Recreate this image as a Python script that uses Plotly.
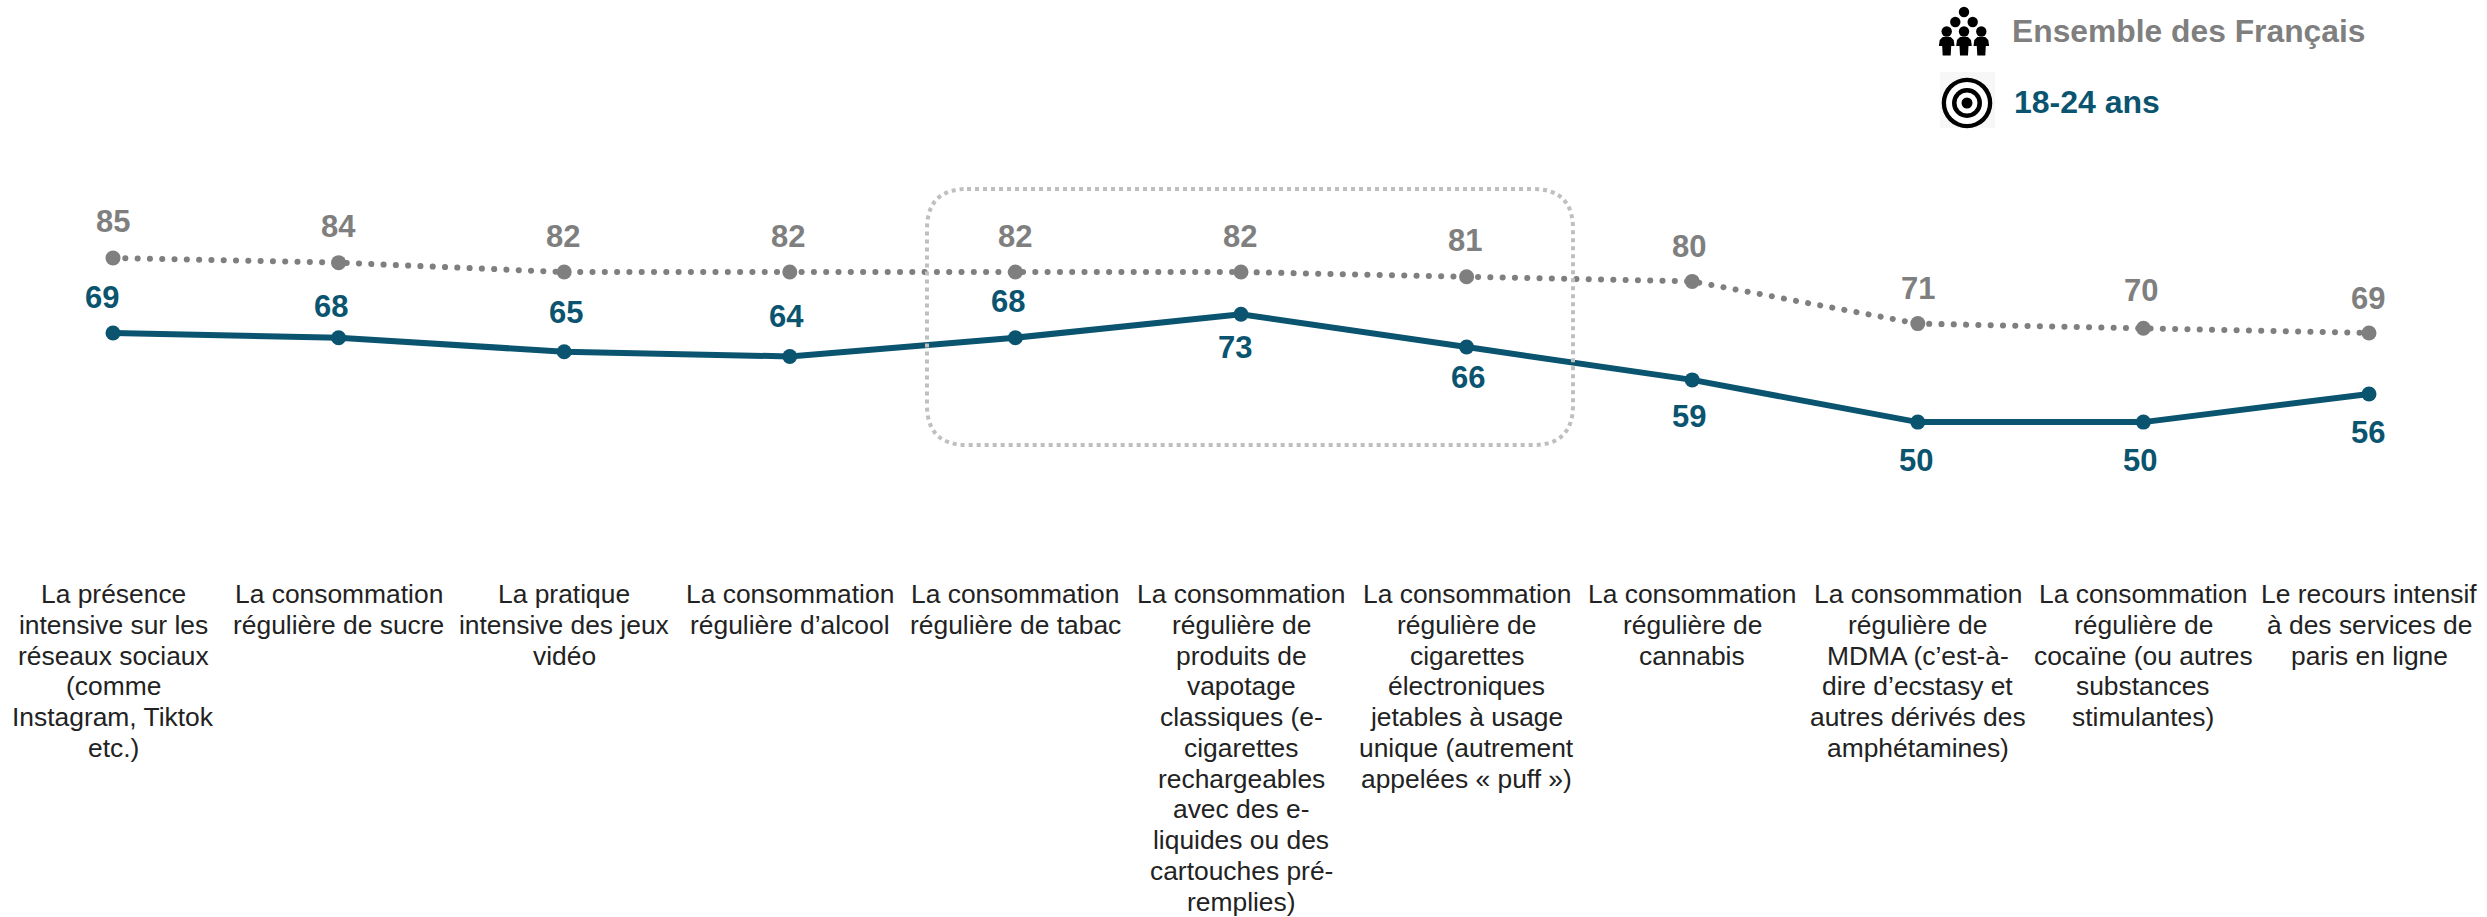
import plotly.graph_objects as go

W, H = 2487, 917

categories = [
    ["La présence", "intensive sur les", "réseaux sociaux", "(comme", "Instagram, Tiktok", "etc.)"],
    ["La consommation", "régulière de sucre"],
    ["La pratique", "intensive des jeux", "vidéo"],
    ["La consommation", "régulière d’alcool"],
    ["La consommation", "régulière de tabac"],
    ["La consommation", "régulière de", "produits de", "vapotage", "classiques (e-", "cigarettes", "rechargeables", "avec des e-", "liquides ou des", "cartouches pré-", "remplies)"],
    ["La consommation", "régulière de", "cigarettes", "électroniques", "jetables à usage", "unique (autrement", "appelées « puff »)"],
    ["La consommation", "régulière de", "cannabis"],
    ["La consommation", "régulière de", "MDMA (c’est-à-", "dire d’ecstasy et", "autres dérivés des", "amphétamines)"],
    ["La consommation", "régulière de", "cocaïne (ou autres", "substances", "stimulantes)"],
    ["Le recours intensif", "à des services de", "paris en ligne"],
]
ensemble = [85, 84, 82, 82, 82, 82, 81, 80, 71, 70, 69]
jeunes = [69, 68, 65, 64, 68, 73, 66, 59, 50, 50, 56]
series_names = ["Ensemble des Français", "18-24 ans"]

GREY = "#7F7F7F"
TEAL = "#0A5470"
FONT = "Liberation Sans"

# label offsets from the points, in pixels (dx, dy; dy positive = downwards)
ens_off = [(0, -36), (0, -36), (-1, -36), (-2, -36), (0, -36), (-1, -36), (-2, -36), (-3, -35), (0, -35), (-2, -38), (-1, -35)]
jeu_off = [(-11, -36), (-8, -31), (2, -39), (-3, -40), (-7, -36), (-6, 33), (1, 30), (-3, 37), (-2, 38), (-3, 38), (-1, 39)]

# pixel calibration of the axes
X0, DX = 113.0, 225.6
Y69, DY = 333.0, 4.69
x_range = [-X0 / DX, (W - X0) / DX]
y_range = [69 - (H - Y69) / DY, 69 + Y69 / DY]
xs = list(range(len(categories)))

fig = go.Figure()
fig.add_trace(go.Scatter(x=xs, y=ensemble, mode="lines", name=series_names[0], showlegend=False, hoverinfo="skip",
                         line=dict(color=GREY, width=6, dash="0.1px,12.2px")))
fig.add_trace(go.Scatter(x=xs, y=ensemble, mode="markers", name=series_names[0], showlegend=False,
                         marker=dict(color=GREY, size=15)))
fig.add_trace(go.Scatter(x=xs, y=jeunes, mode="lines+markers", name=series_names[1], showlegend=False,
                         line=dict(color=TEAL, width=6), marker=dict(color=TEAL, size=15)))


def px(x):
    return x / W


def py(y):
    return 1 - y / H


ann = []
for i in xs:
    ann.append(dict(x=i, y=ensemble[i], text=str(ensemble[i]), xshift=ens_off[i][0], yshift=-ens_off[i][1],
                    showarrow=False, xanchor="center", yanchor="middle",
                    font=dict(family=FONT, size=31, color=GREY, weight="bold")))
    ann.append(dict(x=i, y=jeunes[i], text=str(jeunes[i]), xshift=jeu_off[i][0], yshift=-jeu_off[i][1],
                    showarrow=False, xanchor="center", yanchor="middle",
                    font=dict(family=FONT, size=31, color=TEAL, weight="bold")))
    for k, line in enumerate(categories[i]):
        ann.append(dict(x=i, xref="x", y=py(594 + 30.75 * k), yref="paper", text=line, showarrow=False,
                        xanchor="center", yanchor="middle", xshift=0,
                        font=dict(family=FONT, size=26.4, color="#222222")))

ann.append(dict(x=px(2010), y=py(31), xref="paper", yref="paper", text=series_names[0], showarrow=False,
                xanchor="left", yanchor="middle", font=dict(family=FONT, size=31.8, color=GREY, weight="bold")))
ann.append(dict(x=px(2011.5), y=py(102), xref="paper", yref="paper", text=series_names[1], showarrow=False,
                xanchor="left", yanchor="middle", font=dict(family=FONT, size=32, color=TEAL, weight="bold")))

shapes = []


def P(x, y):
    return f"{px(x):.5f},{py(y):.5f}"


def circle(cx, cy, r, color):
    shapes.append(dict(type="circle", xref="paper", yref="paper", x0=px(cx - r), x1=px(cx + r), y0=py(cy + r),
                       y1=py(cy - r), fillcolor=color, line=dict(width=0), layer="above"))


# rounded dotted box
L, R, T, B, r = 927, 1573, 189, 445, 40
box = (f"M {P(L + r, T)} L {P(R - r, T)} Q {P(R, T)} {P(R, T + r)} L {P(R, B - r)} Q {P(R, B)} {P(R - r, B)} "
       f"L {P(L + r, B)} Q {P(L, B)} {P(L, B - r)} L {P(L, T + r)} Q {P(L, T)} {P(L + r, T)} Z")
shapes.append(dict(type="path", xref="paper", yref="paper", path=box, fillcolor="rgba(0,0,0,0)",
                   line=dict(color="#BFBFBF", width=4, dash="4px,4px"), layer="above"))

# "people" pictogram
for cx, cy in [(1964, 12), (1955.3, 22), (1972.7, 22), (1946.7, 31.5), (1964, 31.5), (1981.3, 31.5)]:
    circle(cx, cy, 5.2, "#000000")
for cx in (1946.7, 1964, 1981.3):
    pts = [(-4, 37), (4, 37), (7, 40), (7.8, 46), (4.5, 46), (4, 55.5), (-4, 55.5), (-4.5, 46), (-7.8, 46), (-7, 40)]
    path = "M " + " L ".join(P(cx + a, b) for a, b in pts) + " Z"
    shapes.append(dict(type="path", xref="paper", yref="paper", path=path, fillcolor="#000000", line=dict(width=0),
                       layer="above"))

# "target" pictogram
shapes.append(dict(type="rect", xref="paper", yref="paper", x0=px(1940), x1=px(1995), y0=py(128), y1=py(72),
                   fillcolor="#F7F7F7", line=dict(width=0), layer="above"))
for rad, col in [(25.3, "#000000"), (21, "#FFFFFF"), (15, "#000000"), (10.5, "#FFFFFF"), (5.5, "#000000")]:
    circle(1967, 103, rad, col)

fig.update_layout(
    width=W, height=H, autosize=False,
    margin=dict(l=0, r=0, t=0, b=0),
    paper_bgcolor="white", plot_bgcolor="white",
    showlegend=False,
    xaxis=dict(range=x_range, visible=False, fixedrange=True),
    yaxis=dict(range=y_range, visible=False, fixedrange=True),
    annotations=ann, shapes=shapes,
    font=dict(family=FONT),
)
post = """
document.body.style.margin = '0';
document.body.style.overflow = 'hidden';
var s = document.createElement('style');
s.textContent = '.scatterlayer .js-line{stroke-linecap:round !important}';
document.head.appendChild(s);
"""
fig.write_html("out.html", config={"displayModeBar": False}, post_script=post)
